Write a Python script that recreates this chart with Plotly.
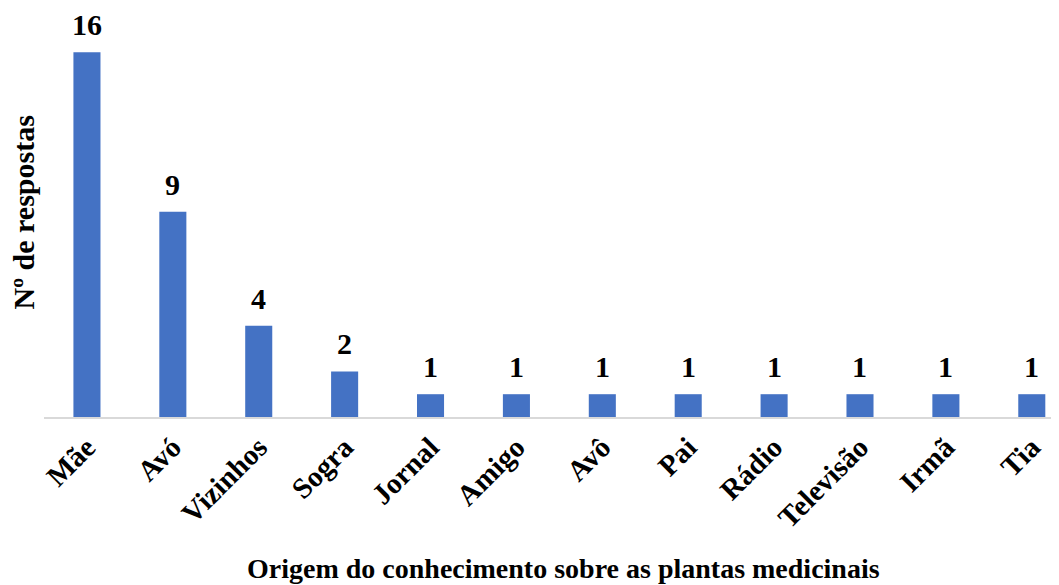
import plotly.graph_objects as go

categories = ["Mãe", "Avó", "Vizinhos", "Sogra", "Jornal", "Amigo", "Avô", "Pai",
              "Rádio", "Televisão", "Irmã", "Tia"]
values = [16, 9, 4, 2, 1, 1, 1, 1, 1, 1, 1, 1]

font_family = "Liberation Serif, Times New Roman, serif"

fig = go.Figure(go.Bar(
    x=categories, y=values,
    marker=dict(color="#4472C4", line=dict(width=0)),
    cliponaxis=False,
    width=0.315,
))

label_annotations = [
    dict(x=c, y=v, xref="x", yref="y", text=f"<b>{v}</b>", showarrow=False,
         xanchor="center", yanchor="bottom", yshift=9,
         font=dict(family=font_family, size=30, color="#000000"))
    for c, v in zip(categories, values)
]

fig.update_layout(
    width=1059, height=585,
    margin=dict(l=36, r=0, t=0, b=176, autoexpand=False),
    paper_bgcolor="white", plot_bgcolor="white",
    showlegend=False,
    xaxis=dict(
        range=[-0.5, 11.41], automargin=False,
        showline=True, linecolor="#d9d9d9", linewidth=1.5,
        ticks="", tickangle=-45,
        tickfont=dict(family=font_family, size=29, color="#000000"),
        tickvals=categories,
        ticktext=[f"<b>{c}</b>" for c in categories],
        showgrid=False, zeroline=False,
    ),
    yaxis=dict(
        range=[0, 17.94], visible=False, showgrid=False, zeroline=False,
        automargin=False,
    ),
    annotations=label_annotations + [
        dict(text="<b>Origem do conhecimento sobre as plantas medicinais</b>",
             xref="paper", yref="paper", x=0.5, xshift=8, y=0, yshift=-151,
             xanchor="center", yanchor="middle", showarrow=False,
             font=dict(family=font_family, size=28, color="#000000")),
        dict(text="<b>Nº de respostas</b>",
             xref="paper", yref="paper", x=0, xshift=-21, y=0.5,
             xanchor="center", yanchor="middle", showarrow=False, textangle=-90,
             font=dict(family=font_family, size=30, color="#000000")),
    ],
)

fig.write_html("out.html")
